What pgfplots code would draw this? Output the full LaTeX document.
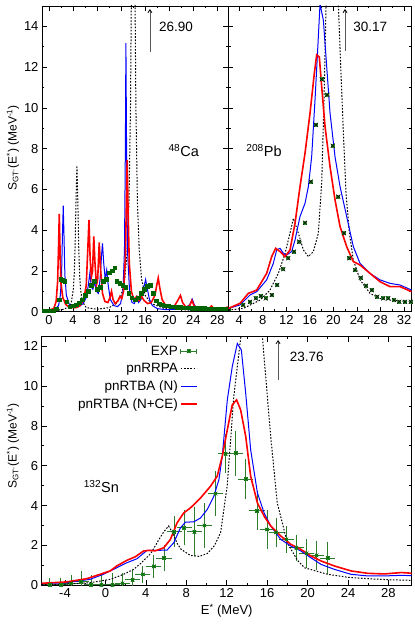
\documentclass[border=0pt]{standalone}
\usepackage{fontspec}
\setmainfont{Liberation Sans}
\usepackage{pgfplots}
\usepackage{pgfplotstable}
\pgfplotsset{compat=1.18}
\usetikzlibrary{arrows.meta}

\definecolor{expgreen}{RGB}{0,100,0}
\definecolor{expfill}{RGB}{45,140,45}
\definecolor{errgreen}{RGB}{45,125,45}

% square with a cross, gnuplot style
\pgfdeclareplotmark{boxx}{%
  \pgfpathrectangle{\pgfpoint{-\pgfplotmarksize}{-\pgfplotmarksize}}{\pgfpoint{2\pgfplotmarksize}{2\pgfplotmarksize}}%
  \pgfusepathqfill
  \pgfpathmoveto{\pgfpoint{-\pgfplotmarksize}{-\pgfplotmarksize}}\pgfpathlineto{\pgfpoint{\pgfplotmarksize}{\pgfplotmarksize}}%
  \pgfpathmoveto{\pgfpoint{-\pgfplotmarksize}{\pgfplotmarksize}}\pgfpathlineto{\pgfpoint{\pgfplotmarksize}{-\pgfplotmarksize}}%
  \pgfusepathqstroke}

\pgfplotsset{
  gp/.style={scale only axis, ymin=0,
    axis line style={line width=0.8pt},
    tick style={black,line width=0.6pt},
    major tick length=5pt, minor tick length=2.5pt, tick align=inside,
    minor x tick num=1, minor y tick num=1,
    tick label style={font=\fontsize{13}{15}\selectfont},
    /pgf/number format/assume math mode=true},
  shortleg/.style={legend image code/.code={\draw[##1] (0pt,0pt) -- (16pt,0pt);}},
  rrpa/.style={black,line width=1pt,dash pattern=on 1.6pt off 1.6pt},
  tbaN/.style={blue,line width=1pt},
  tbaCE/.style={red,line width=1.6pt},
}

% 132Sn data, E, S, error
\pgfplotstableread{
E S e
-5.5 0.03 0.2
-4.4 0.03 0.2
-3.4 0.10 0.3
-2.4 0.17 0.4
-1.4 0.03 0.35
-0.4 0.03 0.4
0.7 0.03 0.45
1.7 0.10 0.4
2.7 0.27 0.35
3.7 0.55 0.3
4.8 0.95 0.45
5.8 1.37 0.55
6.8 2.68 0.65
7.8 2.88 0.75
8.8 2.68 1.1
9.8 3.00 1.0
10.9 4.60 1.0
11.9 6.60 0.85
12.9 6.63 1.0
13.9 5.33 0.9
15.0 3.73 0.85
16.0 2.80 0.85
16.9 2.65 0.62
17.9 2.30 0.55
18.9 1.88 0.54
19.9 1.60 0.6
20.9 1.50 0.62
22.0 1.37 0.7
}\snexp

\pgfplotstableread{
E S
4.69 0.33
5.82 0.49
6.78 0.65
7.63 0.77
8.48 0.65
9.50 0.82
10.46 1.31
11.48 2.08
12.33 2.62
13.30 2.95
14.20 3.44
15.17 4.37
16.13 6.38
17.04 9.17
18.00 11.4
18.97 10.64
19.87 8.15
20.84 5.65
21.80 3.85
22.71 2.62
23.67 2.05
24.63 1.67
25.54 1.28
26.50 1.06
27.46 0.74
28.48 0.65
29.33 0.65
30.30 0.57
31.20 0.49
32.17 0.49
33.13 0.49
}\pbexp

\begin{document}
\begin{tikzpicture}
\useasboundingbox (0,0) rectangle (415pt,624pt);

% ---------------- 48Ca ----------------
\begin{axis}[gp, at={(42pt,312.3pt)}, anchor=south west,
  width=186.3pt, height=305.7pt,
  xmin=-1.15, xmax=29.8, ymax=15,
  xtick={0,4,...,28}, ytick={0,2,...,14}]
\addplot[only marks, mark=square*, mark size=1.7pt, expgreen] coordinates {
(-0.8,0.05)(-0.3,0.05)(0.2,0.05)(0.7,0.05)(1.2,0.15)(1.7,0.6)(2.0,1.6)(2.3,1.55)
(2.6,1.5)(3.0,0.5)(3.5,0.25)(4.0,0.3)(4.5,0.35)(5.0,0.45)(5.5,0.6)(6.0,0.8)
(6.5,1.0)(7.0,1.3)(7.5,1.5)(8.0,1.1)(8.5,1.2)(9.0,1.5)(9.5,1.6)(10.0,1.9)
(10.5,2.0)(10.9,2.15)(11.3,1.5)(11.8,1.4)(12.3,1.3)(12.8,1.2)(13.3,0.9)(13.8,0.7)
(14.3,0.6)(14.8,0.7)(15.3,0.9)(15.8,1.1)(16.3,1.25)(16.8,1.3)(17.3,0.9)(17.8,0.55)
(18.3,0.4)(18.8,0.35)(19.3,0.3)(19.8,0.28)(20.3,0.25)(20.8,0.25)(21.3,0.22)(21.8,0.22)
(22.3,0.2)(22.8,0.2)(23.3,0.2)(23.8,0.18)(24.3,0.18)(24.8,0.18)(25.3,0.17)(25.8,0.17)
(26.3,0.16)(26.8,0.16)(27.3,0.15)(27.8,0.15)(28.3,0.15)(28.8,0.15)(29.3,0.15)(29.8,0.15)};
\addplot[rrpa] coordinates {
(-1,0.02)(1,0.05)(2.5,0.12)(3.5,0.28)(3.75,0.5)(4.05,1.1)(4.2,1.8)(4.35,3.2)(4.5,5.4)
(4.65,7.17)(4.8,5.4)(4.95,3.2)(5.1,1.8)(5.25,1.1)(5.55,0.5)(6.2,0.2)(8,0.12)(10,0.2)
(11.2,0.4)(12.0,0.8)(12.6,1.6)(13.0,3.0)(13.3,5.4)(13.55,10)(13.75,17.5)(13.9,24)
(14.0,26.9)(14.1,24)(14.25,17.5)(14.45,10)(14.7,5.4)(15.0,3.0)(15.4,1.6)(16.0,0.8)
(17,0.4)(19,0.18)(23,0.08)(30,0.05)};
\addplot[tbaN] coordinates {
(-1,0.03)(0,0.05)(1.0,0.12)(1.6,0.3)(1.9,0.8)(2.1,1.8)(2.25,3.8)(2.38,5.2)(2.5,3.8)
(2.65,1.8)(2.9,0.8)(3.4,0.35)(4.2,0.2)(5.0,0.25)(5.7,0.4)(6.2,0.7)(6.55,1.3)(6.8,1.9)
(7.05,1.2)(7.3,1.1)(7.6,1.45)(7.9,1.0)(8.2,0.9)(8.5,1.6)(8.75,2.8)(8.9,3.35)(9.1,2.4)
(9.35,1.6)(9.6,2.05)(9.85,1.3)(10.2,0.6)(10.8,0.3)(11.4,0.25)(11.9,0.4)(12.3,1.0)
(12.55,3.0)(12.7,8.0)(12.79,13.18)(12.9,8.0)(13.05,3.0)(13.4,1.0)(13.8,0.45)(14.2,0.4)
(14.6,0.75)(14.9,0.45)(15.3,0.6)(15.6,1.0)(15.85,1.3)(16.06,1.58)(16.3,1.2)(16.7,0.6)
(17.2,0.3)(18.0,0.15)(19.5,0.1)(21,0.12)(22.5,0.15)(23.4,0.35)(23.8,0.62)(24.2,0.3)
(25,0.1)(27,0.08)(30,0.06)};
\addplot[tbaCE] coordinates {
(-1,0.05)(0,0.08)(0.8,0.15)(1.2,0.5)(1.45,1.5)(1.6,3.2)(1.72,4.8)(1.85,3.0)(2.0,1.4)
(2.3,0.7)(2.8,0.35)(3.5,0.2)(4.5,0.2)(5.2,0.3)(5.8,0.6)(6.2,1.3)(6.45,3.0)(6.65,4.5)
(6.85,2.6)(7.05,1.7)(7.25,2.0)(7.45,3.7)(7.65,2.4)(7.9,1.3)(8.1,1.6)(8.36,3.4)(8.6,2.0)
(8.9,0.9)(9.3,0.5)(9.8,0.45)(10.15,0.7)(10.4,1.0)(10.65,0.6)(11.0,0.4)(11.5,0.55)
(11.8,0.75)(12.1,0.65)(12.4,1.0)(12.7,2.6)(12.85,5.0)(13.0,7.45)(13.15,5.0)(13.35,2.4)
(13.7,1.0)(14.1,0.6)(14.6,0.75)(15.0,0.55)(15.4,0.75)(15.8,0.55)(16.4,0.4)(17.0,0.45)
(17.6,0.8)(17.95,1.35)(18.16,1.65)(18.4,1.2)(18.8,0.6)(19.4,0.3)(20.2,0.2)(20.9,0.3)
(21.5,0.6)(21.85,0.8)(22.2,0.45)(22.8,0.2)(23.4,0.3)(23.75,0.55)(24.1,0.3)(24.8,0.12)
(25.8,0.1)(26.6,0.15)(27.0,0.28)(27.4,0.15)(28.3,0.08)(29.2,0.12)(29.6,0.22)(30,0.15)};
\draw[gray!70!black, line width=0.8pt, -{Straight Barb[length=3pt,width=4pt,black]}]
  (axis cs:16.78,12.75) -- (axis cs:16.78,14.85);
\node[anchor=west, font=\fontsize{13.5}{15}\selectfont] at (axis cs:17.7,14.0) {26.90};
\node[font=\fontsize{14.5}{16}\selectfont] at (axis cs:22.4,7.9) {\textsuperscript{48}Ca};
\end{axis}

% ---------------- 208Pb ----------------
\begin{axis}[gp, at={(228.3pt,312.3pt)}, anchor=south west,
  width=183.4pt, height=305.7pt,
  xmin=2.13, xmax=33.3, ymax=15,
  xtick={4,8,...,32}, ytick={0,2,...,14}, yticklabels={}]
\addplot[only marks, mark=boxx, mark size=2pt,
  mark options={fill=expfill, draw=black, line width=0.5pt}] table[x=E,y=S] {\pbexp};
\addplot[rrpa] coordinates {
(2.14,0.08)(4.68,0.16)(7.52,0.57)(9.22,1.06)(10.63,1.88)(11.77,2.86)(12.62,3.85)
(13.19,4.58)(14.04,3.85)(14.89,3.03)(15.74,2.7)(16.59,2.95)(17.43,3.85)(18.0,6.3)
(18.4,10.4)(18.74,15.0)(19.2,24)(19.8,30.17)(20.4,24)(20.84,15)(21.24,12.0)(21.69,8.76)
(22.14,5.81)(22.71,3.85)(23.38,2.54)(24.52,1.56)(26.22,0.90)(27.92,0.65)(29.62,0.57)
(33.3,0.49)};
\addplot[tbaN] coordinates {
(2.14,0.16)(4.12,0.33)(5.82,0.82)(6.95,0.98)(8.65,1.56)(9.78,2.37)(10.35,3.03)
(10.92,3.11)(11.48,2.87)(12.05,2.78)(12.9,2.95)(13.47,3.52)(14.32,4.67)(15.17,5.32)
(15.74,6.14)(16.3,7.61)(16.87,10.4)(17.32,12.85)(17.72,15.1)(18.29,14.3)(18.86,12.0)
(19.42,9.75)(20.27,7.6)(21.12,6.14)(22.25,4.67)(23.38,3.19)(24.52,2.37)(26.22,1.88)
(27.92,1.56)(29.62,1.39)(31.32,1.31)(33.3,1.06)};
\addplot[tbaCE] coordinates {
(2.14,0.16)(4.12,0.41)(5.54,0.9)(6.95,1.06)(8.65,1.88)(9.5,2.7)(10.18,3.11)(10.92,2.95)
(11.77,2.7)(12.62,3.03)(13.47,4.34)(14.32,6.14)(15.17,7.78)(16.02,9.74)(16.75,11.7)
(17.15,12.6)(17.6,12.5)(18.0,11.05)(18.57,9.09)(19.42,7.12)(20.27,5.48)(21.12,4.18)
(22.25,3.19)(23.38,2.46)(24.52,2.29)(26.22,1.88)(27.92,1.47)(29.62,1.23)(31.32,1.23)
(33.3,0.98)};
\draw[gray!70!black, line width=0.8pt, -{Straight Barb[length=3pt,width=4pt,black]}]
  (axis cs:21.97,12.8) -- (axis cs:21.97,14.85);
\node[anchor=west, font=\fontsize{13.5}{15}\selectfont] at (axis cs:22.8,14.0) {30.17};
\node[font=\fontsize{14.5}{16}\selectfont] at (axis cs:8.2,7.9) {\textsuperscript{208}Pb};
\end{axis}

% ---------------- 132Sn ----------------
\begin{axis}[gp, at={(41.7pt,38.7pt)}, anchor=south west,
  width=370pt, height=248.6pt,
  xmin=-6.3, xmax=30.3, ymax=12.47,
  xtick={-4,0,...,28}, ytick={0,2,...,12},
  legend style={draw=none, fill=none, at={(axis description cs:0.43,0.98)},
    anchor=north east, font=\fontsize{13.5}{15}\selectfont, row sep=2.5pt},
  legend cell align=right, legend plot pos=right]
\addplot[only marks, mark=boxx, mark size=1.8pt,
  mark options={fill=expfill, draw=expgreen, line width=0.5pt},
  error bars/.cd, x dir=both, x fixed=0.5, y dir=both, y explicit,
  error bar style={errgreen, line width=0.9pt},
  error mark options={errgreen, line width=0.9pt, mark size=2.5pt},
  /pgfplots/legend image code/.code={%
    \draw[errgreen, line width=0.9pt] (0pt,0pt) -- (16pt,0pt)
      (0pt,-2.5pt) -- (0pt,2.5pt) (16pt,-2.5pt) -- (16pt,2.5pt);
    \draw[mark=boxx, mark size=1.8pt, mark options={fill=expfill, draw=expgreen, line width=0.5pt}]
      plot coordinates {(8pt,0pt)};}]
  table[x=E, y=S, y error=e] {\snexp};
\addplot[rrpa, shortleg] coordinates {
(-6.3,0.03)(-4,0.06)(-1.5,0.13)(0.5,0.3)(1.8,0.55)(2.8,0.8)(3.5,1.1)(4.5,1.6)(5.3,2.3)
(5.8,2.7)(6.25,2.97)(6.7,2.6)(7.1,2.1)(7.5,1.8)(8.4,1.5)(9.3,1.45)(10.1,1.6)(10.8,2.0)
(11.4,2.65)(12.05,5.0)(12.7,9.47)(13.4,12.47)(13.8,18)(14.4,23.76)(15.0,18.5)(15.53,12.47)
(16.35,7.47)(17.0,4.13)(18.0,2.13)(19.0,1.25)(19.7,0.88)(22,0.55)(24,0.4)(26.3,0.32)
(28,0.28)(30.3,0.25)};
\addplot[tbaN, shortleg] coordinates {
(-6.32,0.08)(-3.84,0.13)(-1.52,0.3)(-0.2,0.55)(0.8,0.8)(2.12,1.13)(3.12,1.33)(4.11,1.75)
(5.1,1.75)(6.1,1.77)(6.76,2.13)(7.42,2.88)(7.92,3.17)(8.75,3.18)(9.41,3.38)(10.07,3.8)
(10.73,4.47)(11.23,5.3)(11.56,6.47)(12.06,9.3)(12.55,10.97)(13.05,12.13)(13.45,11.8)
(13.88,9.63)(14.37,6.8)(15.04,4.63)(15.7,3.63)(16.36,2.97)(17.35,2.3)(18.35,1.97)
(19.34,1.72)(20.33,1.38)(21.33,1.05)(22.65,0.8)(24.31,0.55)(25.96,0.47)(27.62,0.47)
(29.28,0.5)(30.43,0.48)};
\addplot[tbaCE, shortleg] coordinates {
(-6.32,0.1)(-3.84,0.17)(-1.85,0.33)(-0.53,0.55)(0.47,0.72)(1.13,0.97)(2.12,1.25)
(2.95,1.43)(3.78,1.72)(4.28,1.75)(4.94,1.73)(5.77,1.88)(6.43,2.3)(7.09,3.13)(7.75,3.63)
(8.41,3.88)(9.41,4.38)(10.4,4.97)(11.06,5.47)(11.56,6.47)(12.06,7.8)(12.55,9.05)
(12.98,9.3)(13.38,8.8)(13.88,7.47)(14.37,5.47)(15.04,4.13)(15.7,3.47)(16.36,2.97)
(17.35,2.47)(18.35,2.05)(19.34,1.8)(20.33,1.47)(21.33,1.22)(22.65,0.97)(24.31,0.72)
(25.96,0.6)(27.62,0.57)(29.28,0.64)(30.43,0.6)};
\legend{EXP, pnRRPA, pnRTBA (N), pnRTBA (N+CE)}
\draw[gray!70!black, line width=0.8pt, -{Straight Barb[length=3pt,width=4pt,black]}]
  (axis cs:17.08,10.3) -- (axis cs:17.08,12.3);
\node[anchor=west, font=\fontsize{13.5}{15}\selectfont] at (axis cs:17.9,11.47) {23.76};
\node[font=\fontsize{14.5}{16}\selectfont] at (axis cs:-0.4,4.97) {\textsuperscript{132}Sn};
\end{axis}

% axis titles
\node[rotate=90, font=\fontsize{12}{14}\selectfont] at (13pt,476pt)
  {S\textsubscript{GT\textsuperscript{-}}(E\textsuperscript{*}) (MeV\textsuperscript{-1})};
\node[rotate=90, font=\fontsize{12}{14}\selectfont] at (13pt,178pt)
  {S\textsubscript{GT\textsuperscript{-}}(E\textsuperscript{*}) (MeV\textsuperscript{-1})};
\node[font=\fontsize{13}{15}\selectfont] at (226.7pt,13pt) {E\textsuperscript{*} (MeV)};
\end{tikzpicture}
\end{document}
